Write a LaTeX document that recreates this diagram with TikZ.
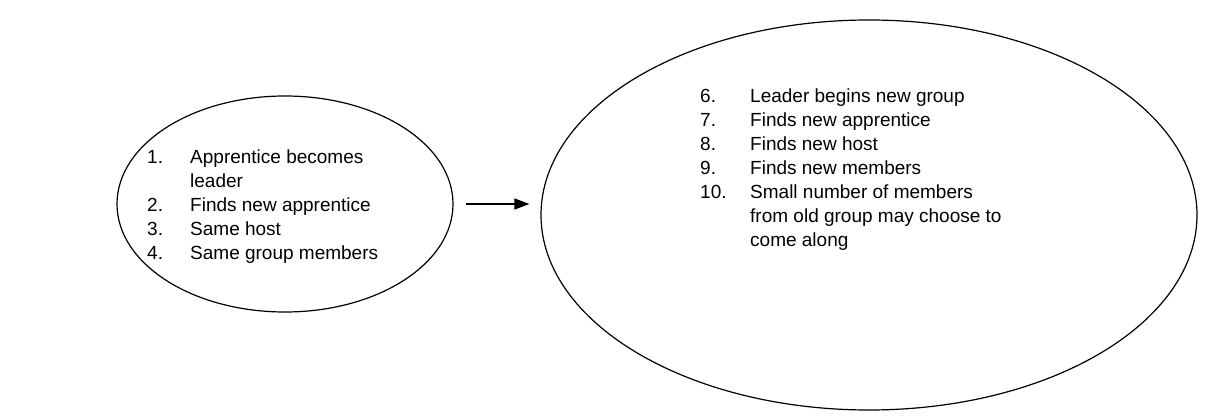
\documentclass[tikz,border=0pt]{standalone}
\usepackage{fontspec}
\setmainfont{Liberation Sans}
\usetikzlibrary{arrows.meta,positioning,shapes.geometric}

\begin{document}
\begin{tikzpicture}[x=1pt, y=1pt, >={Triangle[length=15pt,width=11pt]},
  stage/.style={ellipse,draw,line width=1.2pt,inner sep=0pt},
  steps/.style={anchor=north west,inner sep=0pt,align=left,
    font=\fontsize{19}{24}\selectfont}]
  \useasboundingbox (0,0) rectangle (1207,415);
% --- two stages of a group ---
  \node[stage,minimum width=336pt,minimum height=216pt] (old) at (285,211) {};
  \node[stage,minimum width=656pt,minimum height=390pt] (new) at (869,200) {};
  % step lists
  \node[steps] (oldsteps) at (147,268) {%
    \begin{tabular}{@{}p{43pt}@{}l@{}}
    1. & Apprentice becomes\\
       & leader\\
    2. & Finds new apprentice\\
    3. & Same host\\
    4. & Same group members
    \end{tabular}};
  \node[steps] (newsteps) at (700,329) {%
    \begin{tabular}{@{}p{50pt}@{}l@{}}
    6.  & Leader begins new group\\
    7.  & Finds new apprentice\\
    8.  & Finds new host\\
    9.  & Finds new members\\
    10. & Small number of members\\
        & from old group may choose to\\
        & come along
    \end{tabular}};
  % transition
  \draw[line width=1.5pt,->,shorten <=12pt,shorten >=11pt] (old.east) -- (old.east -| new.west);
\end{tikzpicture}
\end{document}
